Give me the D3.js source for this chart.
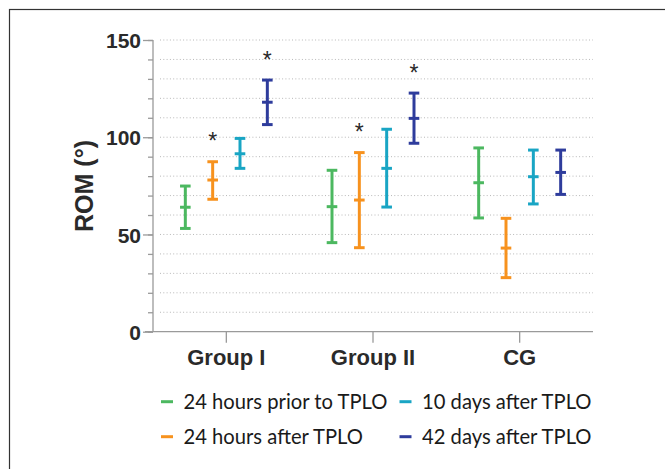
<!DOCTYPE html>
<html><head><meta charset="utf-8">
<script src="https://cdn.jsdelivr.net/npm/d3@7"></script>
<style>body{margin:0;background:#fff}svg{display:block}</style>
</head><body>
<script>
const groups = ["Group I", "Group II", "CG"];
const seriesNames = ["24 hours prior to TPLO", "24 hours after TPLO", "10 days after TPLO", "42 days after TPLO"];
const seriesColors = ["#4cb860", "#f7921e", "#19a5c4", "#2e3c9c"];
// [group][series] mean, low, high
const means = [[64, 78, 91.5, 118], [64.3, 67.7, 84, 109.7], [76.6, 43, 79.7, 81.9]];
const lows  = [[53.1, 68.1, 84, 106.5], [45.8, 43.2, 64.1, 96.9], [58.5, 27.8, 65.7, 70.6]];
const highs = [[74.9, 87.4, 99.4, 129.4], [83, 92.1, 104.1, 122.7], [94.5, 58.3, 93.4, 93.4]];
// significance asterisks: [group, series, value]
const stars = [[0, 1, 100], [0, 3, 141.8], [1, 1, 104.6], [1, 3, 134.9]];
const majorTicks = [0, 50, 100, 150];
const minorTicks = d3.range(0, 151, 10);

const W = 665, H = 469;
const svg = d3.select("body").append("svg").attr("width", W).attr("height", H);

// frame
svg.append("rect").attr("x", 9.5).attr("y", 9.5).attr("width", 700).attr("height", 500)
  .attr("fill", "none").attr("stroke", "#333").attr("stroke-width", 1.2);

const x0 = 153, x1 = 593, yTop = 40, yBot = 331.7;
const y = d3.scaleLinear().domain([0, 150]).range([yBot, yTop]);
const xb = d3.scaleBand().domain(groups).range([x0, x1]).padding(0);
const xs = d3.scalePoint().domain(seriesNames).range([-41, 41]);

// gridlines
svg.append("g").selectAll("line").data(minorTicks.filter(d => d > 0)).join("line")
  .attr("x1", 160).attr("x2", x1).attr("y1", d => y(d)).attr("y2", d => y(d))
  .attr("stroke", "#b8b8b8").attr("stroke-width", 1).attr("stroke-dasharray", "1,2.3");

// y axis
const axisColor = "#9a9a9a";
const gy = svg.append("g").attr("transform", `translate(${x0},0)`)
  .call(d3.axisLeft(y).tickValues(minorTicks).tickSize(5).tickFormat(""));
gy.select(".domain").remove();
gy.selectAll(".tick line").attr("stroke", axisColor).attr("stroke-width", 1.3);
const gyM = svg.append("g").attr("transform", `translate(${x0},0)`)
  .call(d3.axisLeft(y).tickValues(majorTicks).tickSize(10).tickPadding(2).tickFormat(d3.format("d")));
gyM.select(".domain").remove();
gyM.selectAll(".tick line").attr("stroke", axisColor).attr("stroke-width", 1.3);
gyM.selectAll(".tick text").attr("font-family", "Liberation Sans, Arial, sans-serif")
  .attr("font-weight", "bold").attr("font-size", 21).attr("fill", "#2a2a2a").attr("dy", "0.36em");
svg.append("line").attr("x1", x0).attr("x2", x0).attr("y1", yTop).attr("y2", yBot)
  .attr("stroke", axisColor).attr("stroke-width", 1.3);

// x axis
const gx = svg.append("g").attr("transform", `translate(0,${yBot})`)
  .call(d3.axisBottom(xb).tickSize(11).tickPadding(7));
gx.select(".domain").remove();
gx.selectAll(".tick line").attr("stroke", axisColor).attr("stroke-width", 1.3);
gx.selectAll(".tick text").attr("font-family", "Liberation Sans, Arial, sans-serif")
  .attr("font-weight", "bold").attr("font-size", 22).attr("fill", "#2a2a2a");
svg.append("line").attr("x1", 145).attr("x2", x1).attr("y1", yBot).attr("y2", yBot)
  .attr("stroke", axisColor).attr("stroke-width", 1.3);

// y title
svg.append("text").attr("transform", `translate(93,186) rotate(-90)`)
  .attr("text-anchor", "middle").attr("font-family", "Liberation Sans, Arial, sans-serif")
  .attr("font-weight", "bold").attr("font-size", 25).attr("fill", "#2a2a2a").text("ROM (°)");

// error bars
const items = [];
groups.forEach((g, gi) => seriesNames.forEach((s, si) => items.push({g, s, gi, si,
  m: means[gi][si], lo: lows[gi][si], hi: highs[gi][si]})));
const cx = d => xb(d.g) + xb.bandwidth() / 2 + xs(d.s);
const hw = 5.3;
const eb = svg.append("g").selectAll("g").data(items).join("g")
  .attr("stroke", d => seriesColors[d.si]).attr("stroke-width", 3).attr("fill", "none");
eb.append("line").attr("x1", cx).attr("x2", cx).attr("y1", d => y(d.lo)).attr("y2", d => y(d.hi));
eb.append("line").attr("x1", d => cx(d) - hw).attr("x2", d => cx(d) + hw).attr("y1", d => y(d.lo)).attr("y2", d => y(d.lo));
eb.append("line").attr("x1", d => cx(d) - hw).attr("x2", d => cx(d) + hw).attr("y1", d => y(d.hi)).attr("y2", d => y(d.hi));
eb.append("line").attr("x1", d => cx(d) - hw).attr("x2", d => cx(d) + hw).attr("y1", d => y(d.m)).attr("y2", d => y(d.m));

// asterisks
svg.append("g").selectAll("text").data(stars).join("text")
  .attr("x", d => xb(groups[d[0]]) + xb.bandwidth() / 2 + xs(seriesNames[d[1]]))
  .attr("y", d => y(d[2]) + 12)
  .attr("text-anchor", "middle").attr("font-family", "Liberation Sans, Arial, sans-serif")
  .attr("font-size", 23).attr("fill", "#2a2a2a").text("*");

// legend
const legPos = [[161, 401.7], [161, 436.7], [399.5, 401.7], [399.5, 436.7]];
const leg = svg.append("g").selectAll("g").data(seriesNames).join("g")
  .attr("transform", (d, i) => `translate(${legPos[i][0]},${legPos[i][1]})`);
leg.append("line").attr("x1", 0).attr("x2", 12).attr("y1", 0).attr("y2", 0)
  .attr("stroke", (d, i) => seriesColors[i]).attr("stroke-width", 3);
leg.append("text").attr("x", 22.5).attr("y", 0).attr("dy", "0.36em")
  .attr("font-family", "Lato, 'Open Sans', sans-serif").attr("font-size", 20.2).attr("fill", "#1a1a1a").text(d => d);
</script>
</body></html>
